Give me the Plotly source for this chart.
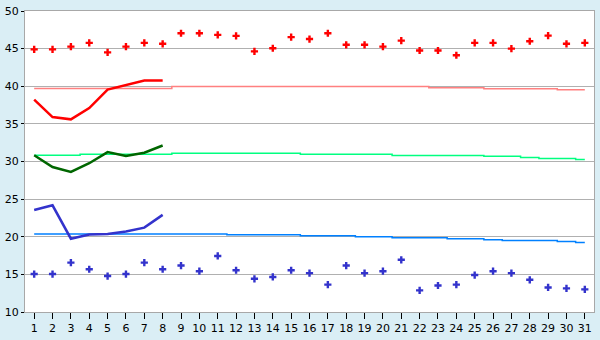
import plotly.graph_objects as go

days = list(range(1, 32))

red_points = [44.9, 44.9, 45.26, 45.77, 44.5, 45.26, 45.77, 45.64, 47.04, 47.04,
              46.83, 46.7, 44.63, 45.05, 46.53, 46.27, 47.04, 45.51, 45.51, 45.26,
              46.06, 44.75, 44.75, 44.12, 45.77, 45.77, 45.0, 45.98, 46.73, 45.64, 45.77]
blue_points = [15.04, 15.04, 16.56, 15.68, 14.78, 15.04, 16.56, 15.68, 16.17, 15.42,
               17.45, 15.55, 14.41, 14.66, 15.55, 15.17, 13.64, 16.17, 15.17, 15.42,
               16.94, 12.88, 13.52, 13.64, 14.91, 15.42, 15.17, 14.28, 13.26, 13.14, 13.01]

line_days = list(range(1, 9))
red_line = [38.23, 35.9, 35.6, 37.1, 39.55, 40.13, 40.77, 40.77]
green_line = [30.83, 29.26, 28.62, 29.77, 31.25, 30.74, 31.17, 32.13]
blue_line = [23.55, 24.18, 19.74, 20.29, 20.37, 20.7, 21.21, 22.91]

red_normal = [39.71] * 8 + [39.98] * 14 + [39.8] * 3 + [39.68] * 4 + [39.55] * 2
green_normal = ([30.83] * 3 + [30.95] * 5 + [31.08] * 7 + [30.95] * 5 + [30.8] * 5
                + [30.7] * 2 + [30.53] + [30.4] * 2 + [30.27])
blue_normal = ([20.37] * 11 + [20.25] * 4 + [20.12] * 3 + [20.0] * 2 + [19.87] * 3
               + [19.74] * 2 + [19.61] + [19.5] * 3 + [19.36] + [19.23])

y_ticks = [10, 15, 20, 25, 30, 35, 40, 45, 50]

fig = go.Figure()

fig.add_trace(go.Scatter(x=days, y=red_normal, mode="lines", line=dict(color="#FF8080", width=1.5, shape="hvh")))
fig.add_trace(go.Scatter(x=days, y=green_normal, mode="lines", line=dict(color="#00FF80", width=1.5, shape="hvh")))
fig.add_trace(go.Scatter(x=days, y=blue_normal, mode="lines", line=dict(color="#0080FF", width=1.5, shape="hvh")))

fig.add_trace(go.Scatter(x=line_days, y=red_line, mode="lines", line=dict(color="#FF0000", width=2.5)))
fig.add_trace(go.Scatter(x=line_days, y=green_line, mode="lines", line=dict(color="#006600", width=2.5)))
fig.add_trace(go.Scatter(x=line_days, y=blue_line, mode="lines", line=dict(color="#3333CC", width=2.5)))

fig.add_trace(go.Scatter(x=days, y=red_points, mode="markers",
                         marker=dict(symbol="cross", size=6, color="#FF0000", line=dict(width=0))))
fig.add_trace(go.Scatter(x=days, y=blue_points, mode="markers",
                         marker=dict(symbol="cross", size=6, color="#3333CC", line=dict(width=0))))

fig.update_layout(
    width=600, height=340,
    margin=dict(l=20, r=5, t=5, b=20),
    paper_bgcolor="#DAEEF5",
    plot_bgcolor="#FFFFFF",
    showlegend=False,
    font=dict(family="DejaVu Sans", size=11, color="#000000"),
)
fig.update_xaxes(
    range=[0.5, 31.5], tickmode="array", tickvals=days, ticktext=[str(d) for d in days],
    showgrid=False, zeroline=False, showline=True, linecolor="#A8A8A8", linewidth=1, mirror=True,
    ticks="outside", ticklen=6, tickcolor="#000000", tickwidth=1,
    ticklabeloverflow="allow",
)
fig.update_yaxes(
    range=[10, 50], tickmode="array", tickvals=y_ticks, ticktext=[str(v) for v in y_ticks],
    showgrid=True, gridcolor="#B0B0B0", gridwidth=1, zeroline=False,
    showline=True, linecolor="#A8A8A8", linewidth=1, mirror=True,
    ticks="outside", ticklen=3, tickcolor="#000000", tickwidth=1,
    ticklabeloverflow="allow",
)

fig.write_html("out.html")
